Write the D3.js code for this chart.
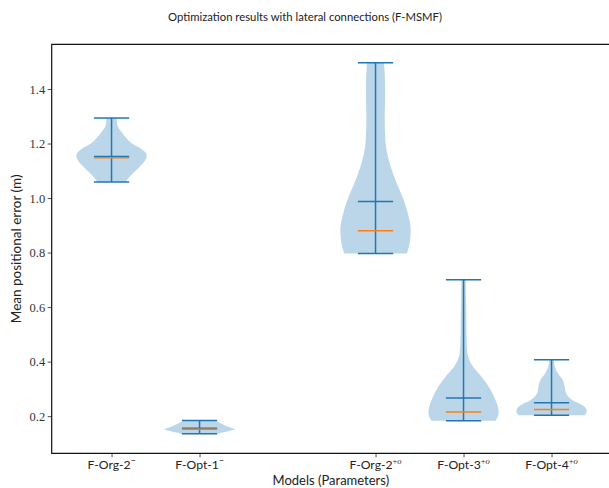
<!DOCTYPE html>
<html>
<head>
<meta charset="utf-8">
<script src="https://cdn.jsdelivr.net/npm/d3@7"></script>
<style>
  html, body { margin: 0; padding: 0; background: #fff; }
  svg { display: block; }
</style>
</head>
<body>
<svg id="chart" width="609" height="488"></svg>
<script>
// Models on the x axis and their slot positions
const categories = ["F-Org-2", "F-Opt-1", "F-Org-2", "F-Opt-3", "F-Opt-4"];
const superscripts = ["−", "−", "+o", "+o", "+o"];
const positions = [1, 2, 4, 5, 6];

// Summary statistics per model (m)
const maxima  = [1.294, 0.184, 1.496, 0.700, 0.407];
const minima  = [1.059, 0.135, 0.797, 0.183, 0.203];
const means   = [1.152, 0.156, 0.987, 0.267, 0.249];
const medians = [1.148, 0.152, 0.880, 0.215, 0.224];

// Kernel density profiles: [value, density relative to the peak]
const densities = [
  [[1.059, 0.40], [1.079, 0.52], [1.097, 0.66], [1.115, 0.80], [1.135, 0.94], [1.158, 1.00],
   [1.180, 0.85], [1.200, 0.58], [1.220, 0.42], [1.240, 0.30], [1.262, 0.18], [1.278, 0.15], [1.294, 0.15]],
  [[0.135, 0.50], [0.140, 0.65], [0.145, 0.82], [0.151, 1.00], [0.158, 0.88], [0.165, 0.74],
   [0.175, 0.58], [0.184, 0.45]],
  [[0.797, 0.89], [0.835, 0.97], [0.884, 1.00], [0.932, 0.94], [0.993, 0.80], [1.055, 0.60],
   [1.115, 0.43], [1.177, 0.31], [1.238, 0.27], [1.299, 0.26], [1.360, 0.27], [1.421, 0.27], [1.496, 0.24]],
  [[0.183, 0.91], [0.212, 1.00], [0.237, 0.97], [0.273, 0.86], [0.310, 0.71], [0.346, 0.50],
   [0.383, 0.26], [0.432, 0.11], [0.468, 0.09], [0.550, 0.08], [0.620, 0.07], [0.700, 0.06]],
  [[0.203, 0.94], [0.218, 1.00], [0.237, 0.91], [0.261, 0.57], [0.285, 0.41], [0.310, 0.37],
   [0.334, 0.31], [0.359, 0.17], [0.383, 0.09], [0.407, 0.06]]
];

const yTicks = [0.2, 0.4, 0.6, 0.8, 1.0, 1.2, 1.4];

const SERIF = '"Liberation Serif", "DejaVu Serif", serif';
const SANS = 'Lato, "Noto Sans", sans-serif';
const INK = "#222";

const svg = d3.select("#chart");
const W = 609;
const plot = { left: 51.7, right: 610, top: 44.3, bottom: 453.3 };

const x = d3.scaleLinear().domain([0.32, 0.32 + (plot.right - plot.left) / 88]).range([plot.left, plot.right]);
const y = d3.scaleLinear().domain([0.0637, 1.564]).range([plot.bottom, plot.top]);

const violinWidth = 0.8;   // full body width in position units
const blue = "#1f77b4", orange = "#ff7f0e";

// Violin bodies
const area = d3.area()
  .curve(d3.curveMonotoneY)
  .y(d => y(d.v));

positions.forEach((p, i) => {
  const pts = densities[i].map(([v, f]) => ({ v, f }));
  area
    .x0(d => x(p - violinWidth / 2 * d.f))
    .x1(d => x(p + violinWidth / 2 * d.f));
  svg.append("path")
    .attr("d", area(pts))
    .attr("fill", blue)
    .attr("fill-opacity", 0.3)
    .attr("stroke", "none");
});

// Extrema bar, caps, means and medians
const g = svg.append("g");
positions.forEach((p, i) => {
  const cap = violinWidth / 4;
  g.append("line")
    .attr("x1", x(p)).attr("x2", x(p))
    .attr("y1", y(minima[i])).attr("y2", y(maxima[i]))
    .attr("stroke", blue).attr("stroke-width", 1.5);
  [maxima[i], minima[i], means[i]].forEach(v => {
    g.append("line")
      .attr("x1", x(p - cap)).attr("x2", x(p + cap))
      .attr("y1", y(v)).attr("y2", y(v))
      .attr("stroke", blue).attr("stroke-width", 1.5);
  });
  g.append("line")
    .attr("x1", x(p - cap)).attr("x2", x(p + cap))
    .attr("y1", y(medians[i])).attr("y2", y(medians[i]))
    .attr("stroke", orange).attr("stroke-width", 1.5);
});

// Axes
const yAxis = d3.axisLeft(y).tickValues(yTicks).tickFormat(d3.format(".1f")).tickSize(4).tickPadding(2.5);
const yg = svg.append("g").attr("transform", `translate(${plot.left},0)`).call(yAxis);
yg.select(".domain").remove();
yg.selectAll(".tick line").attr("stroke", INK).attr("stroke-width", 0.8);
yg.selectAll(".tick text")
  .style("font-family", SERIF).style("font-size", "12.5px").style("fill", "#333");

const xAxis = d3.axisBottom(x).tickValues(positions).tickFormat("").tickSize(4);
const xg = svg.append("g").attr("transform", `translate(0,${plot.bottom})`).call(xAxis);
xg.select(".domain").remove();
xg.selectAll(".tick line").attr("stroke", INK).attr("stroke-width", 0.8);

// Tick labels with superscripts
positions.forEach((p, i) => {
  const t = svg.append("text")
    .style("font-family", SANS).style("font-size", "12.2px").style("fill", INK)
    .attr("x", x(p)).attr("y", 469)
    .attr("text-anchor", "middle");
  t.append("tspan").text(categories[i]);
  const sup = t.append("tspan").attr("dy", -5).style("font-size", "8.5px");
  if (superscripts[i] === "+o") {
    sup.append("tspan").style("font-family", SERIF).text("+");
    sup.append("tspan").style("font-family", SERIF).style("font-style", "italic").text("o");
  } else {
    sup.text(superscripts[i]);
  }
});

// Frame (left, top, bottom spines)
svg.append("path")
  .attr("d", `M${W + 5},${plot.top}H${plot.left}V${plot.bottom}H${W + 5}`)
  .attr("fill", "none").attr("stroke", "#111").attr("stroke-width", 1.2);

// Titles
svg.append("text")
  .style("font-family", SANS).style("font-size", "11.3px").style("fill", INK)
  .attr("x", 305).attr("y", 21).attr("text-anchor", "middle")
  .text("Optimization results with lateral connections (F-MSMF)");
svg.append("text")
  .style("font-family", SANS).style("font-size", "13px").style("fill", INK)
  .attr("x", (plot.left + plot.right) / 2).attr("y", 485).attr("text-anchor", "middle")
  .text("Models (Parameters)");
svg.append("text")
  .style("font-family", SANS).style("font-size", "13.5px").style("fill", INK)
  .attr("transform", `translate(21,${(plot.top + plot.bottom) / 2}) rotate(-90)`)
  .attr("text-anchor", "middle")
  .text("Mean positional error (m)");
</script>
</body>
</html>
